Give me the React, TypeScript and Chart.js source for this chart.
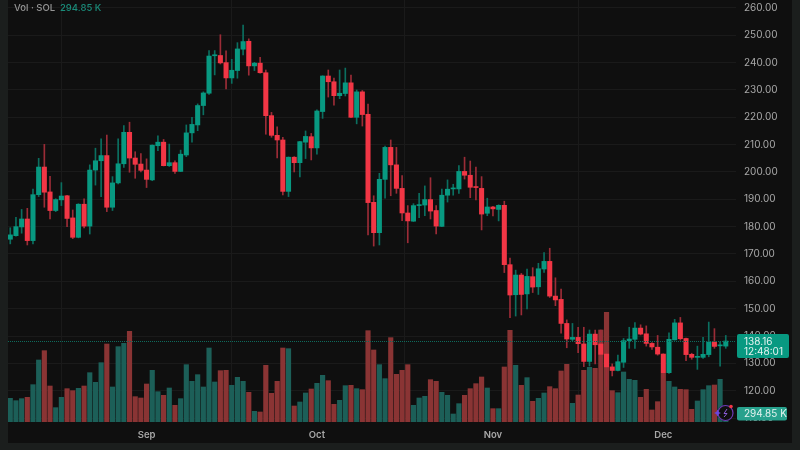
import React, { useEffect, useRef } from "react";
import { Chart, registerables } from "chart.js";

Chart.register(...registerables);

const opens = [175.4,176.7,179.9,182.8,174.9,191.7,201.8,192.7,185.9,189.8,191.3,183.2,176.1,188.2,180.2,200.7,204.1,206,187.1,196,203,214.5,205.1,202.9,200.7,197.1,209.6,210.9,202.3,203.4,200.2,206.2,214.3,217.2,224.3,228.8,242.5,242.6,240,234.4,237.1,244.9,247.8,238.8,239.8,236.3,220.6,213.4,211.7,192.9,205.4,203.4,210.9,212.9,208.8,222.1,235.1,233,227.9,228.7,232.6,220,229.3,221.1,188.9,177.8,197.3,209,202.6,194,185,182,187.7,187.9,189.9,185.9,180.1,191.5,193.8,193.8,200.2,198.8,194.5,194,184.9,187.2,186.3,187.8,166.1,155.1,162.3,155.4,161.7,158,164.5,167.3,154.6,153.4,144.6,138.8,139.5,137.1,130.7,140.7,137.1,133.4,128.7,127.4,130.4,138.3,138.8,142.9,140.8,137.3,135.9,133.4,126.6,138.6,144.8,139.1,133.3,132.2,132.2,133.2,137.8,136.4,136.3];
const closes = [177,180,182.8,174.9,191.7,201.8,192.6,185.9,189.9,191.2,183,176.1,188.2,180.2,200.7,204.1,206,187.1,196,203,214.5,205.1,202.8,200.6,197.3,209.8,210.9,202.3,203.4,200.2,206.5,214.3,217.4,224.3,228.9,242.4,242.7,239.9,234.4,237.2,245,247.7,238.8,239.8,236.3,220.6,213.4,211.7,192.9,205.4,203.4,211.1,213,208.8,222.3,235.1,233,227.9,228.8,232.6,220,229.3,221,188.8,177.8,197.3,209,202.6,194,185,182.1,187.7,187.9,189.9,185.7,180.2,191.5,193.7,194,200.2,198.8,194.4,194.3,184.6,187.2,186.5,187.8,166.1,155,162.3,155.2,161.8,157.9,164.6,167.3,154.6,153.2,144.6,138.9,139.5,137.2,130.7,140.7,136.8,133.3,128.7,127.4,130.6,138.3,138.9,142.9,140.7,137.3,136,133.4,126.6,138.8,144.8,139,133.2,132.2,132.4,133.3,137.8,136.2,136.7,138.16];
const highs = [179.6,183.4,186.3,186.7,193.7,205,210.1,198.4,190.2,196.1,191.5,186.1,188.4,190.2,202.6,208.7,212.1,213.5,198.3,212.1,217,218.2,207.4,206.7,204.8,209.9,213.2,211.9,210.2,204.1,208,217.2,220,224.9,229.3,244.4,244.4,250.2,244.3,241.2,247.3,253.7,248.7,240.1,241.9,237.3,221.8,216.5,212.7,205.5,205.6,211.2,215,214.1,222.7,235.2,237.3,234.3,237.3,238,235.4,230,229.8,224.8,191.3,199.5,209.5,211.7,209,198.7,187.7,188.4,192.2,194.9,197.9,187.7,193.7,197.1,195.5,202.3,205.4,204,201.8,198.3,190.4,187.4,188,189.3,168.5,164.1,162.9,164.5,165,166.6,170.5,172.1,161.3,157.2,145.9,144.6,143.2,143.2,142.2,142.2,142.2,134.9,129.8,133,139.1,143.2,144.9,144.1,143.7,137.6,140.2,133.5,141.2,146.1,146.8,139.2,133.7,136.3,139.5,145.1,142.7,137.9,140.2];
const lows = [173.7,176.5,177.6,173.3,173.7,191,187.1,182.8,185.5,187.7,180,175.6,175.9,179.5,177.3,195.2,191,185.5,185.9,195.6,201.7,199.9,197.7,200,194.3,196.8,207.8,202.2,202,199.5,200.1,205.6,210.9,215.1,220.9,228.4,235.5,239.5,230.4,232.4,234.3,242.8,235.4,237.1,236.1,213.8,212.7,205.1,191.6,191,200,198.2,204.9,204.4,206.5,219.6,227.4,224.4,226.8,227.8,219.9,217.6,216.8,177,172.9,173.3,190.4,191.3,192.2,182.2,174.1,181.9,183.3,184,182.8,177.3,180,189,191.5,192.2,197.4,190.6,189.8,178.8,184,183.9,182.1,163.2,146.7,147.3,147.7,149.9,155.9,155.2,163.3,154.1,151.1,141,135.7,138.3,133.9,128.8,129,129.8,128.8,121.5,125.4,127.2,128.5,135.5,135.5,140.4,136.3,135.1,133,124.5,126.3,138.5,138.5,131,131.5,127.8,131.8,132.4,135.5,129,135.5];
// volume in thousands
const volumes = [873,787,861,910,1378,2288,2632,1328,529,910,1230,1156,1242,1328,1820,1464,2189,2878,1292,2780,2903,3346,935,886,1402,1907,1119,984,1255,615,861,2116,1501,1747,1292,2731,1476,1894,1907,1353,1648,1501,1095,394,369,2091,1058,1501,2731,2706,590,738,1070,1218,1427,1722,1525,652,800,1341,1353,1230,1193,3370,2657,2116,1599,3112,1759,1907,2116,615,886,947,1562,1501,1095,984,295,677,984,1230,1415,1661,1255,492,492,2030,3383,2091,1353,1636,763,873,1070,1304,1230,1882,2128,689,996,1907,2017,1980,3395,4047,1156,1082,1845,1574,1538,910,1205,443,750,1796,1501,1292,1205,1193,467,775,1193,1341,1365,1574,294.85];

const monthDays = [24, 54, 85, 115];
const monthNames = ["Sep", "Oct", "Nov", "Dec"];

const lastPrice = "138.16";
const countdown = "12:48:01";
const lastVolume = "294.85 K";

const UP = "#089981";
const DOWN = "#f23645";
const UP_WICK = "#0b6f60";
const DOWN_WICK = "#9c2c37";
const UP_VOL = "#1c5f58";
const DOWN_VOL = "#8a3434";
const PLOT_BG = "#0f0f0f";
const EDGE_BG = "#1b1e1d";
const AXIS_TEXT = "#a8a8a8";
const FONT = "Inter, 'Noto Sans', sans-serif";

const days = opens.map((_, i) => i);
const isUp = opens.map((o, i) => closes[i] >= o);

const noPadding = (s: any) => {
  s.paddingTop = 0;
  s.paddingBottom = 0;
  s.paddingLeft = 0;
  s.paddingRight = 0;
};

const overlayPlugin = {
  id: "overlay",
  beforeDraw(chart: any) {
    const { ctx, chartArea: a, width, height } = chart;
    ctx.save();
    ctx.fillStyle = EDGE_BG;
    ctx.fillRect(0, 0, width, height);
    ctx.fillStyle = PLOT_BG;
    ctx.fillRect(a.left, 0, 792 - a.left, 443);
    ctx.restore();
  },
  afterDraw(chart: any) {
    const { ctx, chartArea: a, scales } = chart;
    const py = scales.y.getPixelForValue(closes[closes.length - 1]);
    const vy = scales.vol.getPixelForValue(volumes[volumes.length - 1]);
    ctx.save();

    // last price line
    ctx.strokeStyle = "#0e6a5c";
    ctx.lineWidth = 1;
    ctx.setLineDash([1, 1]);
    ctx.beginPath();
    ctx.moveTo(a.left, Math.round(py) + 0.5);
    ctx.lineTo(a.right, Math.round(py) + 0.5);
    ctx.stroke();
    ctx.setLineDash([]);

    // header
    ctx.textBaseline = "middle";
    ctx.textAlign = "left";
    ctx.font = "500 9.5px " + FONT;
    ctx.fillStyle = "#969696";
    ctx.fillText("Vol · SOL", 14, 8.5);
    ctx.fillStyle = "#1a8c7a";
    ctx.fillText(lastVolume, 60, 8.5);

    // price tag
    ctx.fillStyle = UP;
    ctx.beginPath();
    ctx.roundRect(737, py - 7, 52, 24, 2);
    ctx.fill();
    ctx.fillStyle = "#e4f3f0";
    ctx.font = "10px " + FONT;
    ctx.fillText(lastPrice, 744, py + 0.5);
    ctx.fillText(countdown, 744, py + 11);

    // volume tag
    ctx.fillStyle = "#27a18d";
    ctx.beginPath();
    ctx.roundRect(737, vy - 7, 50, 13.5, 2);
    ctx.fill();
    ctx.fillStyle = "#e4f3f0";
    ctx.fillText(lastVolume, 744, vy);

    // badge
    const bx = 725.5;
    const by = 413;
    ctx.fillStyle = PLOT_BG;
    ctx.beginPath();
    ctx.arc(bx, by, 8, 0, Math.PI * 2);
    ctx.fill();
    ctx.strokeStyle = "#6d3bb5";
    ctx.lineWidth = 1.2;
    ctx.beginPath();
    ctx.arc(bx, by, 7.5, 0, Math.PI * 2);
    ctx.stroke();
    ctx.strokeStyle = "#8a5cd6";
    ctx.lineWidth = 1;
    ctx.beginPath();
    ctx.moveTo(bx + 1.5, by - 4);
    ctx.lineTo(bx - 1.5, by + 0.5);
    ctx.lineTo(bx + 1.5, by + 0.5);
    ctx.lineTo(bx - 1.5, by + 4);
    ctx.stroke();
    ctx.fillStyle = "#6a45e0";
    ctx.beginPath();
    ctx.moveTo(bx - 8, by - 3.5);
    ctx.lineTo(bx - 6.8, by - 1);
    ctx.lineTo(bx - 4.5, by);
    ctx.lineTo(bx - 6.8, by + 1);
    ctx.lineTo(bx - 8, by + 3.5);
    ctx.lineTo(bx - 9.2, by + 1);
    ctx.lineTo(bx - 11.5, by);
    ctx.lineTo(bx - 9.2, by - 1);
    ctx.closePath();
    ctx.fill();
    ctx.fillStyle = "#f23645";
    ctx.beginPath();
    ctx.arc(bx + 5.5, by - 6.5, 1.8, 0, Math.PI * 2);
    ctx.fill();
    ctx.restore();
  },
};

const App = () => {
  const ref = useRef<HTMLCanvasElement | null>(null);

  useEffect(() => {
    document.body.style.margin = "0";
    document.body.style.background = EDGE_BG;
    if (!ref.current) return;

    const chart = new Chart(ref.current, {
      type: "bar",
      data: {
        datasets: [
          {
            label: "body",
            data: days.map((d) => ({ x: d, y: [opens[d], closes[d]] })) as any,
            backgroundColor: isUp.map((u) => (u ? UP : DOWN)),
            barThickness: 4.4,
            minBarLength: 1,
            yAxisID: "y",
            order: 1,
          },
          {
            label: "wick",
            data: days.map((d) => ({ x: d, y: [lows[d], highs[d]] })) as any,
            backgroundColor: isUp.map((u) => (u ? UP_WICK : DOWN_WICK)),
            barThickness: 1,
            yAxisID: "y",
            order: 2,
          },
          {
            label: "volume",
            data: days.map((d) => ({ x: d, y: volumes[d] })),
            backgroundColor: isUp.map((u) => (u ? UP_VOL : DOWN_VOL)),
            barThickness: 4.5,
            yAxisID: "vol",
            order: 3,
          },
        ],
      },
      options: {
        responsive: false,
        animation: false,
        events: [],
        datasets: { bar: { grouped: false } },
        layout: { padding: { left: 8, right: 8, top: 0, bottom: 7 } },
        plugins: { legend: { display: false }, tooltip: { enabled: false } },
        scales: {
          x: {
            type: "linear",
            offset: false,
            min: -0.4,
            max: 127.8,
            afterFit: (s: any) => {
              s.height = 21;
              noPadding(s);
            },
            afterBuildTicks: (s: any) => {
              s.ticks = monthDays.map((value) => ({ value }));
            },
            grid: { color: "#1a1a1a", drawTicks: false },
            border: { display: false },
            ticks: {
              autoSkip: false,
              maxRotation: 0,
              padding: 7,
              color: AXIS_TEXT,
              font: { family: FONT, size: 9.5, weight: 600 },
              callback: (v: any) => monthNames[monthDays.indexOf(v)],
            },
          },
          y: {
            position: "right",
            min: 108.55,
            max: 262.9,
            afterFit: (s: any) => {
              s.width = 56;
              noPadding(s);
            },
            grid: { color: "#1a1a1a", drawTicks: false },
            border: { display: false },
            ticks: {
              stepSize: 10,
              includeBounds: false,
              padding: 8,
              color: AXIS_TEXT,
              font: { family: FONT, size: 10 },
              callback: (v: any) => Number(v).toFixed(2),
            },
          },
          vol: {
            display: false,
            min: 0,
            max: 15572,
          },
        },
      },
      plugins: [overlayPlugin],
    } as any);

    return () => chart.destroy();
  }, []);

  // the reference is a slightly soft screenshot
  return (
    <canvas
      ref={ref}
      width={800}
      height={450}
      style={{ display: "block", filter: "blur(0.35px)" }}
    />
  );
};

export default App;
